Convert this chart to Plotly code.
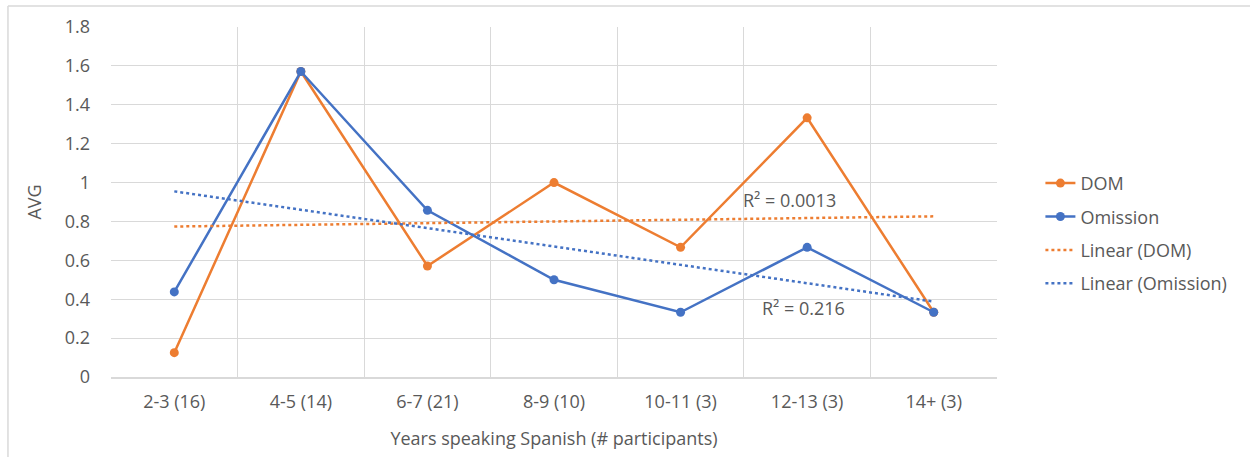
import numpy as np
import plotly.graph_objects as go

# Average scores by years speaking Spanish (number of participants)
categories = ["2-3 (16)", "4-5 (14)", "6-7 (21)", "8-9 (10)", "10-11 (3)", "12-13 (3)", "14+ (3)"]
dom = [0.125, 1.571, 0.571, 1.0, 0.667, 1.333, 0.333]
omission = [0.4375, 1.571, 0.857, 0.5, 0.333, 0.667, 0.333]

ORANGE = "#ED7D31"
BLUE = "#4472C4"
GRID = "#D9D9D9"
TEXT = "#595959"
FONT = "Open Sans"
FS = 18

idx = np.arange(len(categories))


def linear_fit(values):
    y = np.asarray(values, dtype=float)
    slope, intercept = np.polyfit(idx, y, 1)
    fitted = slope * idx + intercept
    r2 = 1 - np.sum((y - fitted) ** 2) / np.sum((y - y.mean()) ** 2)
    return fitted, r2


dom_fit, dom_r2 = linear_fit(dom)
om_fit, om_r2 = linear_fit(omission)

fig = go.Figure()
fig.add_trace(go.Scatter(
    x=categories, y=dom, name="DOM", mode="lines+markers",
    line=dict(color=ORANGE, width=2.5), marker=dict(size=9, color=ORANGE),
    legendgroup="a",
))
fig.add_trace(go.Scatter(
    x=categories, y=omission, name="Omission", mode="lines+markers",
    line=dict(color=BLUE, width=2.5), marker=dict(size=9, color=BLUE),
    legendgroup="b",
))
fig.add_trace(go.Scatter(
    x=categories, y=dom_fit, name="Linear (DOM)", mode="lines",
    line=dict(color=ORANGE, width=2.5, dash="dot"),
    legendgroup="c",
))
fig.add_trace(go.Scatter(
    x=categories, y=om_fit, name="Linear (Omission)", mode="lines",
    line=dict(color=BLUE, width=2.5, dash="dot"),
    legendgroup="d",
))

fig.add_annotation(x=4.86, y=0.91, xref="x", yref="y",
                   text=f"R² = {dom_r2:.4f}", showarrow=False,
                   font=dict(family=FONT, size=FS, color=TEXT))
fig.add_annotation(x=4.97, y=0.355, xref="x", yref="y",
                   text=f"R² = {om_r2:.3f}", showarrow=False,
                   font=dict(family=FONT, size=FS, color=TEXT))

# Outer frame (top and left edges)
fig.add_shape(type="line", xref="paper", yref="paper",
              x0=-0.1163, x1=1.3, y0=1.06, y1=1.06,
              line=dict(color=GRID, width=1.5))
fig.add_shape(type="line", xref="paper", yref="paper",
              x0=-0.1163, x1=-0.1163, y0=1.06, y1=-0.3,
              line=dict(color=GRID, width=1.5))

fig.update_layout(
    width=1250, height=457,
    margin=dict(l=111, r=253, t=27, b=80),
    paper_bgcolor="white", plot_bgcolor="white",
    font=dict(family=FONT, size=FS, color=TEXT),
    showlegend=True,
    legend=dict(x=1.049, y=0.606, xanchor="left", yanchor="top",
                traceorder="grouped", tracegroupgap=7,
                font=dict(family=FONT, size=FS, color=TEXT),
                bgcolor="rgba(0,0,0,0)"),
    xaxis=dict(
        type="category", range=[-0.5, 6.5], tickson="boundaries",
        showgrid=True, gridcolor=GRID, gridwidth=1,
        showline=True, linecolor=GRID, linewidth=1.5,
        ticks="", ticklen=0, ticklabelstandoff=8,
        title=dict(text="Years speaking Spanish (# participants)", standoff=20,
                   font=dict(family=FONT, size=FS, color=TEXT)),
        tickfont=dict(family=FONT, size=FS, color=TEXT),
        fixedrange=True,
    ),
    yaxis=dict(
        range=[0, 1.8], dtick=0.2, tickformat="~g",
        showgrid=True, gridcolor=GRID, gridwidth=1,
        zeroline=False, showline=False,
        ticks="", ticklabelstandoff=20,
        title=dict(text="AVG", standoff=18,
                   font=dict(family=FONT, size=FS, color=TEXT)),
        tickfont=dict(family=FONT, size=FS, color=TEXT),
        fixedrange=True,
    ),
)

fig.write_html("out.html")
